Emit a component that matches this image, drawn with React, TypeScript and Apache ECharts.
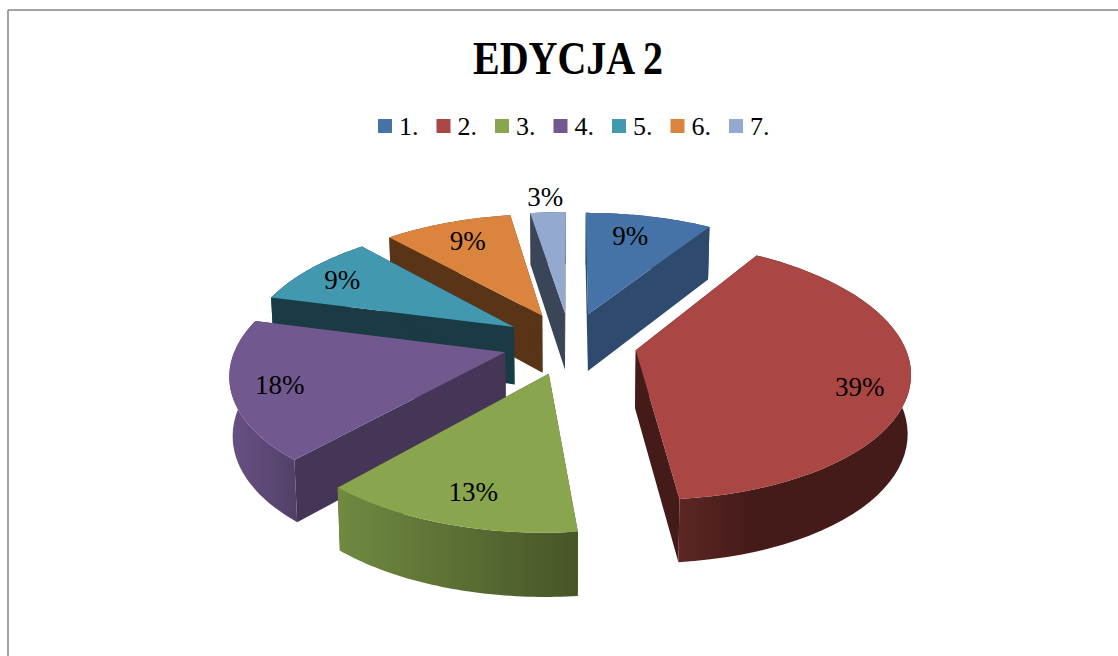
import React, { useEffect, useRef } from "react";
import * as echarts from "echarts";

const titleText = "EDYCJA 2";
const categories = ["1.", "2.", "3.", "4.", "5.", "6.", "7."];
const shares = [9, 39.4, 13.1, 17.6, 9.3, 9.1, 2.5];
const topColors = ["#4572A7", "#AA4643", "#89A54E", "#71588F", "#4198AF", "#DB843D", "#93A9CF"];
const cutColors = ["#2E4A6E", "#451B19", "#465527", "#453556", "#1A3A45", "#5A3416", "#3A4658"];
const rimFrom = ["#2E4A6E", "#5C2725", "#708A41", "#685185", "#1A3A45", "#5A3416", "#3A4658"];
const rimTo = ["#2E4A6E", "#451B19", "#465527", "#524068", "#1A3A45", "#5A3416", "#3A4658"];
const rimEase = [1, 0.3, 1, 1, 1, 1, 1];
const paintOrder = [1, 5, 7, 4, 3, 2, 6]; // stacking per slice: back slices first
const labelFrac = [0.77, 0.83, 0.81, 0.83, 0.82, 0.78, 1.18];
const labelSpin = [-2, 6, -1.4, -0.6, -1, 0.5, 0];

const FONT = '"Liberation Serif", serif';
const CX = 570, CY = 343, W = 268, A = 124.6, B = 0.151, EXPLODE = 0.25;
const total = shares.reduce((s, v) => s + v, 0);

function project(u: number, v: number, bottom: boolean): number[] {
  const w = 1 + B * v;
  let x = CX + (W * u) / w;
  let y = CY - (A * v) / w;
  if (bottom) {
    x = CX + (x - CX) * 0.99;
    y += 58 - 5 * v;
  }
  return [x, y];
}

function renderSlice(index: number) {
  return (_params: any, api: any) => {
    const value = api.value(0) as number;
    const before = shares.slice(0, index).reduce((s, v) => s + v, 0);
    const a0 = (before / total) * Math.PI * 2;
    const a1 = ((before + value) / total) * Math.PI * 2;
    const mid = (a0 + a1) / 2;
    const au = EXPLODE * Math.sin(mid);
    const av = EXPLODE * Math.cos(mid);
    const steps = 48;
    const arcTop: number[][] = [];
    const arcBottom: number[][] = [];
    for (let i = 0; i <= steps; i++) {
      const t = a0 + ((a1 - a0) * i) / steps;
      const u = au + Math.sin(t);
      const v = av + Math.cos(t);
      arcTop.push(project(u, v, false));
      arcBottom.push(project(u, v, true));
    }
    const apexTop = project(au, av, false);
    const apexBottom = project(au, av, true);
    const polygon = (points: number[][], fill: any) => ({
      type: "polygon",
      shape: { points },
      style: { fill, stroke: null },
    });
    const lp = labelFrac[index];
    const la = mid + (labelSpin[index] * Math.PI) / 180;
    const labelAt = project(au + lp * Math.sin(la), av + lp * Math.cos(la), false);
    const rimFill = new echarts.graphic.LinearGradient(0, 0, 1, 0, [
      { offset: 0, color: rimFrom[index] },
      { offset: rimEase[index], color: rimTo[index] },
      { offset: 1, color: rimTo[index] },
    ]);
    return {
      type: "group",
      children: [
        polygon([apexTop, arcTop[0], arcBottom[0], apexBottom], cutColors[index]),
        polygon([apexTop, arcTop[steps], arcBottom[steps], apexBottom], cutColors[index]),
        polygon([...arcTop, ...[...arcBottom].reverse()], rimFill),
        polygon([apexTop, ...arcTop], topColors[index]),
        {
          type: "text",
          x: labelAt[0],
          y: labelAt[1],
          style: {
            text: `${Math.round((value / total) * 100)}%`,
            font: `27px ${FONT}`,
            fill: "#000000",
            align: "center",
            verticalAlign: "middle",
          },
        },
      ],
    };
  };
}

export default function App() {
  const ref = useRef<HTMLDivElement>(null);
  useEffect(() => {
    document.body.style.margin = "0";
    const chart = echarts.init(ref.current!, undefined, { renderer: "svg" });
    chart.setOption({
      animation: false,
      backgroundColor: "#FFFFFF",
      legend: {
        left: 373,
        top: 108,
        itemWidth: 14,
        itemHeight: 14,
        itemGap: 18,
        icon: "rect",
        data: categories,
        textStyle: { fontFamily: FONT, fontSize: 26, color: "#000000", padding: [0, 0, 0, 2] },
      },
      graphic: [
        { type: "line", shape: { x1: 8, y1: 10, x2: 1118, y2: 10 }, style: { stroke: "#868686", lineWidth: 1.5 } },
        { type: "line", shape: { x1: 8, y1: 10, x2: 8, y2: 656 }, style: { stroke: "#868686", lineWidth: 1.5 } },
        {
          type: "text",
          x: 568,
          y: 59,
          scaleX: 0.87,
          style: {
            text: titleText,
            font: `bold 46px ${FONT}`,
            fill: "#000000",
            align: "center",
            verticalAlign: "middle",
          },
        },
      ],
      series: categories.map((name, i) => ({
        type: "custom",
        name,
        coordinateSystem: "none",
        z: paintOrder[i],
        itemStyle: { color: topColors[i] },
        renderItem: renderSlice(i),
        data: [[shares[i]]],
      })),
    });
    return () => chart.dispose();
  }, []);
  return <div ref={ref} style={{ width: 1118, height: 656 }} />;
}
